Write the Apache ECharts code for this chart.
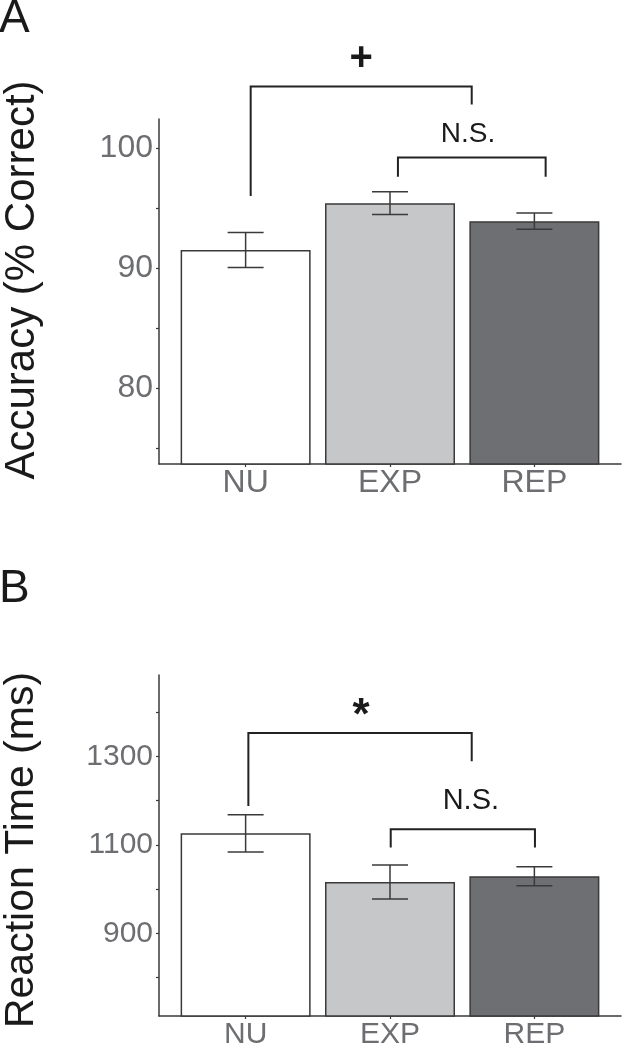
<!DOCTYPE html>
<html>
<head>
<meta charset="utf-8">
<script src="https://cdn.jsdelivr.net/npm/echarts@6/dist/echarts.min.js"></script>
<style>
  html, body { margin: 0; padding: 0; background: #fff; }
  #chart { width: 635px; height: 1050px; }
</style>
</head>
<body>
<div id="chart"></div>
<script>
  const categories = ['NU', 'EXP', 'REP'];
  const barColors = ['#ffffff', '#c6c7c9', '#6e6f73'];

  // panel A: accuracy (% correct)
  const accMean = [91.5, 95.4, 93.9];
  const accErr = [1.45, 0.95, 0.68];
  const accTicks = [75, 80, 85, 90, 95, 100];
  const accLabels = [80, 90, 100];
  const accBracketX = [[1.035, 2.566], [2.055, 3.078]];
  const accBracketY = [[96.0, 105.1, 103.6], [97.6, 99.2, 97.6]]; // left end, top, right end
  const accMarks = ['+', 'N.S.'];
  const accMarkPos = [[1.8, 107.4], [2.54, 101.1]];

  // panel B: reaction time (ms)
  const rtMean = [1126, 1016, 1029];
  const rtErr = [42, 38.5, 21.6];
  const rtTicks = [800, 900, 1000, 1100, 1200, 1300, 1400];
  const rtLabels = [900, 1100, 1300];
  const rtBracketX = [[1.019, 2.566], [2.005, 3.004]];
  const rtBracketY = [[1188, 1353, 1289], [1094, 1135, 1094]];
  const rtMarks = ['*', 'N.S.'];
  const rtMarkPos = [[1.8, 1389], [2.56, 1198]];

  const font = 'Liberation Sans';
  const ink = '#3a3a3a';
  const labelGray = '#6d6e71';

  const chart = echarts.init(document.getElementById('chart'));

  const makeX = (idx, fontSize, margin) => ({
    type: 'value', gridIndex: idx, min: 0.4, max: 3.6,
    axisLine: { show: true, onZero: false, lineStyle: { color: ink, width: 1.5 } },
    axisTick: { show: true, length: 3, customValues: [1, 2, 3], lineStyle: { color: ink, width: 1.2 } },
    axisLabel: {
      customValues: [1, 2, 3], formatter: (v) => categories[Math.round(v) - 1] || '',
      fontSize, fontFamily: font, color: labelGray, margin,
    },
    splitLine: { show: false },
  });

  const makeY = (idx, min, max, ticks, labels, fontSize) => ({
    type: 'value', gridIndex: idx, min, max,
    axisLine: { show: true, onZero: false, lineStyle: { color: ink, width: 1.5 } },
    axisTick: { show: true, length: 3, customValues: ticks, lineStyle: { color: ink, width: 1.2 } },
    axisLabel: {
      customValues: labels, formatter: (v) => String(v),
      fontSize, fontFamily: font, color: labelGray, margin: 6,
    },
    splitLine: { show: false },
  });

  const barSeries = (idx, mean) => ({
    type: 'bar', xAxisIndex: idx, yAxisIndex: idx, barWidth: 130,
    data: mean.map((m, i) => ({ value: [i + 1, m], itemStyle: { color: barColors[i] } })),
    itemStyle: { borderColor: ink, borderWidth: 1.5 },
  });

  const errorSeries = (idx, mean, err) => ({
    type: 'custom', xAxisIndex: idx, yAxisIndex: idx, z: 5,
    data: mean.map((m, i) => [i + 1, m, err[i]]),
    renderItem: (params, api) => {
      const x = api.value(0), m = api.value(1), e = api.value(2);
      const top = api.coord([x, m + e]);
      const bot = api.coord([x, m - e]);
      const half = 18;
      const style = { stroke: ink, lineWidth: 1.5 };
      return {
        type: 'group',
        children: [
          { type: 'line', shape: { x1: top[0], y1: top[1], x2: bot[0], y2: bot[1] }, style },
          { type: 'line', shape: { x1: top[0] - half, y1: top[1], x2: top[0] + half, y2: top[1] }, style },
          { type: 'line', shape: { x1: bot[0] - half, y1: bot[1], x2: bot[0] + half, y2: bot[1] }, style },
        ],
      };
    },
  });

  const bracketSeries = (idx, bx, by) => ({
    type: 'custom', xAxisIndex: idx, yAxisIndex: idx, clip: false, z: 6,
    data: bx.map((xs, i) => [xs[0], by[i][0], xs[1], by[i][1], by[i][2]]),
    renderItem: (params, api) => {
      const p1 = api.coord([api.value(0), api.value(1)]);
      const p2 = api.coord([api.value(0), api.value(3)]);
      const p3 = api.coord([api.value(2), api.value(3)]);
      const p4 = api.coord([api.value(2), api.value(4)]);
      return {
        type: 'polyline',
        shape: { points: [p1, p2, p3, p4] },
        style: { stroke: '#222', lineWidth: 2, fill: null },
      };
    },
  });

  const markSeries = (idx, marks, pos, sizes) => ({
    type: 'custom', xAxisIndex: idx, yAxisIndex: idx, clip: false, z: 6,
    data: pos.map((p) => [p[0], p[1]]),
    renderItem: (params, api) => {
      const c = api.coord([api.value(0), api.value(1)]);
      const i = params.dataIndex;
      const bold = marks[i] !== 'N.S.';
      return {
        type: 'text',
        x: c[0], y: c[1],
        style: {
          text: marks[i], fill: '#1a1a1a', fontFamily: font,
          fontSize: sizes[i], fontWeight: bold ? 'bold' : 'normal',
          align: 'center', verticalAlign: 'middle',
          textAlign: 'center', textVerticalAlign: 'middle',
        },
      };
    },
  });

  const option = {
    animation: false,
    backgroundColor: '#fff',
    grid: [
      { left: 159, top: 119, width: 462, height: 345 },
      { left: 159, top: 675, width: 462, height: 344 },
    ],
    xAxis: [makeX(0, 32, 3), makeX(1, 30, 4)],
    yAxis: [
      makeY(0, 73.7, 102.4, accTicks, accLabels, 32),
      makeY(1, 713, 1484, rtTicks, rtLabels, 30),
    ],
    series: [
      barSeries(0, accMean),
      errorSeries(0, accMean, accErr),
      bracketSeries(0, accBracketX, accBracketY),
      markSeries(0, accMarks, accMarkPos, [40, 28]),
      barSeries(1, rtMean),
      errorSeries(1, rtMean, rtErr),
      bracketSeries(1, rtBracketX, rtBracketY),
      markSeries(1, rtMarks, rtMarkPos, [44, 29]),
    ],
    graphic: [
      { type: 'text', x: -1, y: -4, style: { text: 'A', fontSize: 46, fontFamily: font, fill: '#1a1a1a' } },
      { type: 'text', x: -1, y: 566, style: { text: 'B', fontSize: 46, fontFamily: font, fill: '#1a1a1a' } },
      {
        type: 'text', x: 22, y: 280, rotation: Math.PI / 2,
        style: {
          text: 'Accuracy (% Correct)', fontSize: 42, fontFamily: font, fill: '#1a1a1a',
          align: 'center', verticalAlign: 'middle', textAlign: 'center', textVerticalAlign: 'middle',
        },
      },
      {
        type: 'text', x: 22, y: 850, rotation: Math.PI / 2,
        style: {
          text: 'Reaction Time (ms)', fontSize: 41, fontFamily: font, fill: '#1a1a1a',
          align: 'center', verticalAlign: 'middle', textAlign: 'center', textVerticalAlign: 'middle',
        },
      },
    ],
  };

  chart.setOption(option);
  window.addEventListener('resize', () => chart.resize());
</script>
</body>
</html>
